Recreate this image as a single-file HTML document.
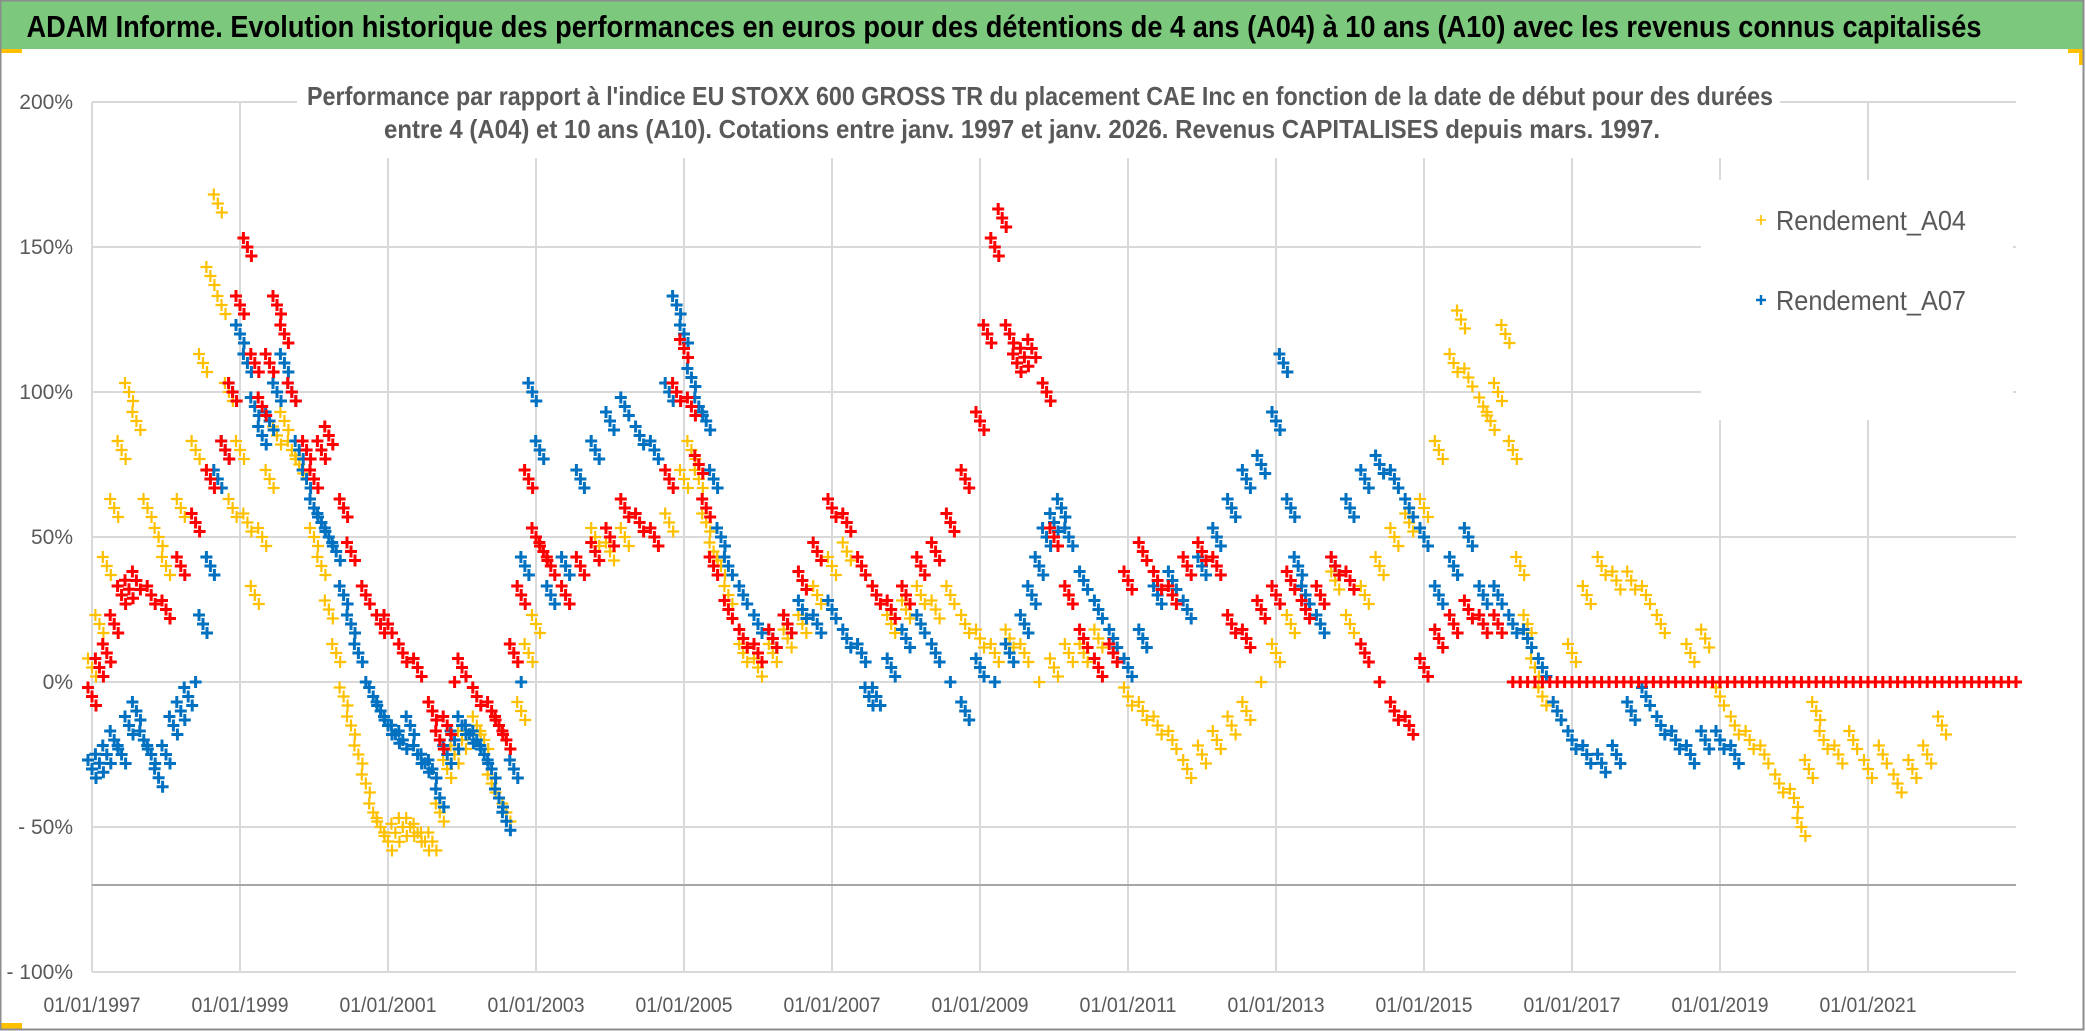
<!DOCTYPE html>
<html><head><meta charset="utf-8"><style>
html,body{margin:0;padding:0;background:#fff;}
svg{display:block;}
text{font-family:"Liberation Sans Narrow","Liberation Sans",sans-serif;}
</style></head><body>
<svg id="chart" width="2086" height="1031" viewBox="0 0 2086 1031">
<rect x="0" y="0" width="2086" height="1031" fill="#fff"/>
<rect x="0" y="0" width="2083" height="49" fill="#7cc97e"/>
<text x="1004" y="37" text-anchor="middle" font-size="31" font-weight="bold" fill="#000" textLength="1955" lengthAdjust="spacingAndGlyphs">ADAM Informe. Evolution historique des performances en euros pour des détentions de 4 ans (A04) à 10 ans (A10) avec les revenus connus capitalisés</text>
<g id="grid"></g>
<g id="marks"></g>
<rect x="297" y="80" width="1483" height="78" fill="#fff"/>
<text x="1040" y="105" text-anchor="middle" font-size="26" font-weight="bold" fill="#595959" textLength="1466" lengthAdjust="spacingAndGlyphs">Performance par rapport à l'indice EU STOXX 600 GROSS TR  du placement CAE Inc en fonction de la date de début pour des durées</text>
<text x="1022" y="138" text-anchor="middle" font-size="26" font-weight="bold" fill="#595959" textLength="1276" lengthAdjust="spacingAndGlyphs">entre 4 (A04) et 10 ans (A10). Cotations entre janv. 1997 et janv. 2026. Revenus CAPITALISES depuis mars. 1997.</text>
<rect x="1701" y="180" width="312" height="240" fill="#fff"/>
<g>
<path d="M1756 220h10M1761 215v10" stroke="#FFC000" stroke-width="1.6"/>
<text x="1776" y="230" font-size="28" fill="#595959" textLength="190" lengthAdjust="spacingAndGlyphs">Rendement_A04</text></g>
<g>
<path d="M1756 300h10M1761 295v10" stroke="#0070C0" stroke-width="2.4"/>
<text x="1776" y="310" font-size="28" fill="#595959" textLength="190" lengthAdjust="spacingAndGlyphs">Rendement_A07</text></g>
<rect x="0" y="49" width="22" height="4" fill="#FFC000"/>
<rect x="2068" y="49" width="15" height="4" fill="#FFC000"/>
<rect x="2079" y="49" width="4" height="16" fill="#FFC000"/>
<rect x="0" y="1023" width="22" height="6" fill="#FFC000"/>
<rect x="0.5" y="0.5" width="2083" height="1029" fill="none" stroke="#8c8c8c" stroke-width="2"/>
</svg>
<script>
const yTicks = [200, 150, 100, 50, 0, -50, -100];
const yTickLabels = ["200%", "150%", "100%", "50%", "0%", "- 50%", "- 100%"];
const xTicks = [1997, 1999, 2001, 2003, 2005, 2007, 2009, 2011, 2013, 2015, 2017, 2019, 2021];
const xTickLabels = ["01/01/1997","01/01/1999","01/01/2001","01/01/2003","01/01/2005","01/01/2007","01/01/2009","01/01/2011","01/01/2013","01/01/2015","01/01/2017","01/01/2019","01/01/2021"];
const refLine = -70;
const a04 = [[1997.0,5],[1997.1,20],[1997.2,40],[1997.3,60],[1997.4,80],[1997.5,100],[1997.6,90],[1997.75,60],[1997.9,50],[1998.0,40],[1998.2,60],[1998.4,80],[1998.5,110],[1998.6,140],[1998.7,165],[1998.75,130],[1998.85,100],[1998.9,60],[1999.0,80],[1999.1,55],[1999.2,30],[1999.3,50],[1999.4,70],[1999.5,85],[1999.6,90],[1999.7,80],[1999.8,75],[1999.9,70],[2000.0,50],[2000.1,40],[2000.2,25],[2000.3,10],[2000.4,-5],[2000.5,-15],[2000.6,-25],[2000.7,-35],[2000.8,-45],[2000.9,-50],[2001.0,-55],[2001.1,-52],[2001.2,-50],[2001.3,-50],[2001.4,-52],[2001.5,-55],[2001.6,-55],[2001.7,-45],[2001.8,-30],[2001.9,-25],[2002.0,-20],[2002.1,-18],[2002.2,-15],[2002.3,-20],[2002.4,-35],[2002.5,-40],[2002.6,-45],[2002.7,-30],[2002.8,-10],[2002.9,10],[2003.0,20],[2003.2,30],[2003.4,40],[2003.6,40],[2003.8,50],[2004.0,45],[2004.2,50],[2004.4,55],[2004.6,50],[2004.8,55],[2005.0,70],[2005.1,80],[2005.2,70],[2005.3,55],[2005.4,45],[2005.5,40],[2005.6,30],[2005.8,10],[2006.0,5],[2006.2,10],[2006.4,15],[2006.6,20],[2006.8,30],[2007.0,40],[2007.2,45],[2007.4,40],[2007.6,30],[2007.8,20],[2008.0,25],[2008.2,30],[2008.4,25],[2008.6,30],[2008.8,20],[2009.0,15],[2009.2,10],[2009.4,15],[2009.6,10],[2009.8,0],[2010.0,5],[2010.2,10],[2010.4,10],[2010.6,15],[2010.8,10],[2011.0,-5],[2011.2,-10],[2011.4,-15],[2011.6,-20],[2011.8,-30],[2012.0,-25],[2012.2,-20],[2012.4,-15],[2012.6,-10],[2012.8,0],[2013.0,10],[2013.2,20],[2013.4,25],[2013.6,30],[2013.8,35],[2014.0,20],[2014.2,30],[2014.4,40],[2014.6,50],[2014.8,55],[2015.0,60],[2015.2,80],[2015.4,110],[2015.5,125],[2015.6,105],[2015.8,95],[2015.9,90],[2016.0,100],[2016.1,120],[2016.2,80],[2016.3,40],[2016.4,20],[2016.5,5],[2016.6,-5],[2016.8,-10],[2017.0,10],[2017.2,30],[2017.4,40],[2017.6,35],[2017.8,35],[2018.0,30],[2018.2,20],[2018.4,0],[2018.6,10],[2018.8,15],[2019.0,-5],[2019.2,-15],[2019.4,-20],[2019.6,-25],[2019.8,-35],[2020.0,-40],[2020.1,-50],[2020.2,-30],[2020.3,-10],[2020.4,-20],[2020.6,-25],[2020.8,-20],[2021.0,-30],[2021.2,-25],[2021.4,-35],[2021.6,-30],[2021.8,-25],[2022.0,-15],[2022.2,0],[2022.4,0],[2022.6,0],[2022.8,0],[2023.0,0]];
const a07 = [[1997.0,-30],[1997.1,-28],[1997.2,-25],[1997.3,-20],[1997.4,-25],[1997.5,-15],[1997.6,-10],[1997.7,-20],[1997.8,-25],[1997.9,-33],[1998.0,-25],[1998.1,-15],[1998.2,-10],[1998.3,-5],[1998.4,0],[1998.5,20],[1998.6,40],[1998.7,70],[1998.8,80],[1998.9,100],[1999.0,120],[1999.1,110],[1999.2,95],[1999.3,85],[1999.4,90],[1999.5,100],[1999.6,110],[1999.7,100],[1999.8,80],[1999.9,70],[2000.0,60],[2000.1,55],[2000.2,50],[2000.3,45],[2000.4,30],[2000.5,20],[2000.6,10],[2000.7,0],[2000.8,-5],[2000.9,-10],[2001.0,-15],[2001.1,-18],[2001.2,-20],[2001.3,-15],[2001.4,-25],[2001.5,-28],[2001.6,-30],[2001.7,-40],[2001.8,-25],[2001.9,-20],[2002.0,-15],[2002.1,-18],[2002.2,-20],[2002.3,-25],[2002.4,-30],[2002.5,-40],[2002.6,-48],[2002.7,-30],[2002.8,0],[2002.85,40],[2002.95,100],[2003.05,80],[2003.2,30],[2003.4,40],[2003.6,70],[2003.8,80],[2004.0,90],[2004.2,95],[2004.4,85],[2004.6,80],[2004.8,100],[2004.9,130],[2005.0,120],[2005.1,105],[2005.2,95],[2005.3,90],[2005.4,70],[2005.5,50],[2005.6,40],[2005.8,30],[2006.0,20],[2006.2,15],[2006.4,20],[2006.6,25],[2006.8,20],[2007.0,25],[2007.2,15],[2007.4,10],[2007.5,-5],[2007.6,-5],[2007.8,5],[2008.0,15],[2008.2,20],[2008.4,10],[2008.6,0],[2008.8,-10],[2009.0,5],[2009.2,0],[2009.4,10],[2009.6,20],[2009.7,30],[2009.8,40],[2009.9,50],[2010.0,55],[2010.1,60],[2010.2,50],[2010.4,35],[2010.6,25],[2010.8,15],[2011.0,5],[2011.2,15],[2011.4,30],[2011.6,35],[2011.8,25],[2012.0,40],[2012.2,50],[2012.4,60],[2012.6,70],[2012.8,75],[2013.0,90],[2013.1,110],[2013.2,60],[2013.3,40],[2013.4,30],[2013.6,20],[2013.8,40],[2014.0,60],[2014.2,70],[2014.4,75],[2014.6,70],[2014.8,60],[2015.0,50],[2015.2,30],[2015.4,40],[2015.6,50],[2015.8,30],[2016.0,30],[2016.2,20],[2016.4,15],[2016.6,5],[2016.8,-10],[2017.0,-20],[2017.2,-25],[2017.4,-28],[2017.6,-25],[2017.8,-10],[2018.0,-5],[2018.2,-15],[2018.4,-20],[2018.6,-25],[2018.8,-20],[2019.0,-20],[2019.2,-25]];
const a10 = [[1997.0,-5],[1997.1,5],[1997.2,10],[1997.3,20],[1997.4,30],[1997.5,32],[1997.6,35],[1997.8,30],[1998.0,25],[1998.2,40],[1998.4,55],[1998.6,70],[1998.8,80],[1998.9,100],[1999.0,130],[1999.1,150],[1999.2,110],[1999.3,95],[1999.4,110],[1999.5,130],[1999.6,120],[1999.7,100],[1999.9,80],[2000.0,70],[2000.1,80],[2000.2,85],[2000.4,60],[2000.5,45],[2000.7,30],[2000.9,20],[2001.0,20],[2001.2,10],[2001.4,5],[2001.6,-10],[2001.7,-20],[2001.8,-15],[2001.9,0],[2002.0,5],[2002.2,-5],[2002.4,-10],[2002.5,-15],[2002.6,-20],[2002.7,10],[2002.8,30],[2002.9,70],[2003.0,50],[2003.1,45],[2003.2,40],[2003.4,30],[2003.6,40],[2003.8,45],[2004.0,50],[2004.2,60],[2004.4,55],[2004.6,50],[2004.8,70],[2004.9,100],[2005.0,115],[2005.1,95],[2005.2,75],[2005.3,60],[2005.4,40],[2005.6,25],[2005.8,15],[2006.0,10],[2006.2,15],[2006.4,20],[2006.6,35],[2006.8,45],[2007.0,60],[2007.2,55],[2007.4,40],[2007.6,30],[2007.8,25],[2008.0,30],[2008.2,40],[2008.4,45],[2008.6,55],[2008.8,70],[2009.0,90],[2009.1,120],[2009.2,150],[2009.3,160],[2009.4,120],[2009.5,110],[2009.6,112],[2009.7,115],[2009.9,100],[2010.0,50],[2010.2,30],[2010.4,15],[2010.6,5],[2010.8,10],[2011.0,35],[2011.2,45],[2011.4,35],[2011.6,30],[2011.8,40],[2012.0,45],[2012.2,40],[2012.4,20],[2012.6,15],[2012.8,25],[2013.0,30],[2013.2,35],[2013.4,25],[2013.6,30],[2013.8,40],[2014.0,35],[2014.2,10],[2014.4,0],[2014.6,-10],[2014.8,-15],[2015.0,5],[2015.2,15],[2015.4,20],[2015.6,25],[2015.8,20],[2016.0,20],[2016.2,0],[2016.3,0],[2016.4,0],[2016.5,0],[2016.6,0],[2016.7,0],[2016.8,0],[2016.9,0],[2017.0,0],[2017.1,0],[2017.2,0],[2017.3,0],[2017.4,0],[2017.5,0],[2017.6,0],[2017.7,0],[2017.8,0],[2017.9,0],[2018.0,0],[2018.1,0],[2018.2,0],[2018.3,0],[2018.4,0],[2018.5,0],[2018.6,0],[2018.7,0],[2018.8,0],[2018.9,0],[2019.0,0],[2019.1,0],[2019.2,0],[2019.3,0],[2019.4,0],[2019.5,0],[2019.6,0],[2019.7,0],[2019.8,0],[2019.9,0],[2020.0,0],[2020.1,0],[2020.2,0],[2020.3,0],[2020.4,0],[2020.5,0],[2020.6,0],[2020.7,0],[2020.8,0],[2020.9,0],[2021.0,0],[2021.1,0],[2021.2,0],[2021.3,0],[2021.4,0],[2021.5,0],[2021.6,0],[2021.7,0],[2021.8,0],[2021.9,0],[2022.0,0],[2022.1,0],[2022.2,0],[2022.3,0],[2022.4,0],[2022.5,0],[2022.6,0],[2022.7,0],[2022.8,0],[2022.9,0],[2023.0,0]];

const X0 = 92, X1 = 2016, YEAR0 = 1997, YEAR1 = 2023;
const Y0 = 682, PXPERPCT = 2.9;
function xs(yr){ return X0 + (yr - YEAR0) * (X1 - X0) / (YEAR1 - YEAR0); }
function ys(v){ return Y0 - v * PXPERPCT; }
const NS = "http://www.w3.org/2000/svg";
const grid = document.getElementById('grid');
const marks = document.getElementById('marks');
function mk(tag, attrs, parent){ const e = document.createElementNS(NS, tag); for (const k in attrs) e.setAttribute(k, attrs[k]); parent.appendChild(e); return e; }

yTicks.forEach((t, i) => {
  const l = mk('line', {x1: X0, x2: X1, y1: ys(t), y2: ys(t), stroke: '#d9d9d9', 'stroke-width': 2}, grid);
  
  
  const tx = mk('text', {x: 73, y: ys(t) + 7, 'text-anchor': 'end', 'font-size': 21, fill: '#595959'}, grid);
  tx.textContent = yTickLabels[i];
  
  
});
xTicks.forEach((t, i) => {
  const l = mk('line', {x1: xs(t), x2: xs(t), y1: ys(200), y2: ys(-100), stroke: '#d9d9d9', 'stroke-width': 2}, grid);
  
  
  const tx = mk('text', {x: xs(t), y: 1012, 'text-anchor': 'middle', 'font-size': 21, fill: '#595959', textLength: 97, lengthAdjust: 'spacingAndGlyphs'}, grid);
  tx.textContent = xTickLabels[i];
  
  
});
const rl = mk('line', {x1: X0, x2: X1, y1: ys(refLine), y2: ys(refLine), stroke: '#a6a6a6', 'stroke-width': 2}, grid);



// marker cluster offsets (style only: emulates the dense daily marker clouds)
const CLUSTER = [[0,0],[-4,-9],[4,9]];
function drawSeries(data, color, sw, arm, name){
  const g = mk('g', {}, marks);
  
  
  let d = '';
  data.forEach(p => {
    const cx = xs(p[0]), cy = ys(p[1]);
    const offs = p[1] === 0 ? [[0,0]] : CLUSTER;
    offs.forEach(o => {
      const x = cx + o[0], y = cy + o[1];
      d += `M${(x-arm).toFixed(1)} ${y.toFixed(1)}h${2*arm}M${x.toFixed(1)} ${(y-arm).toFixed(1)}v${2*arm}`;
    });
  });
  const path = mk('path', {d: d, stroke: color, 'stroke-width': sw, fill: 'none'}, g);
  
  
}
drawSeries(a04, '#FFC000', 2.2, 6, 'series-a04');
drawSeries(a07, '#0070C0', 3, 6, 'series-a07');
drawSeries(a10, '#FF0000', 3, 6, 'series-a10');
</script>
</body></html>
